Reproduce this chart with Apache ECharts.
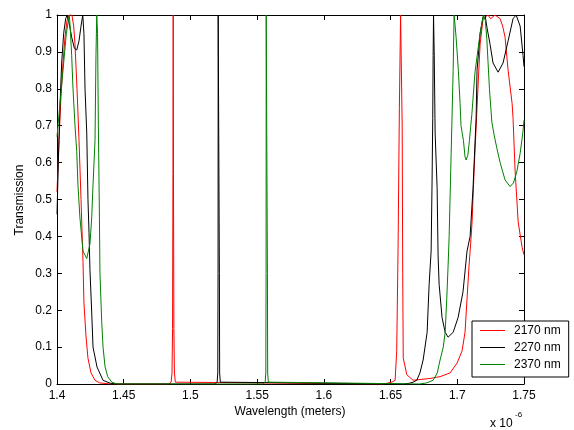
<!DOCTYPE html>
<html>
<head>
<meta charset="utf-8">
<script src="https://cdn.jsdelivr.net/npm/echarts@6/dist/echarts.min.js"></script>
<style>
html,body{margin:0;padding:0;background:#fff;}
#c{width:574px;height:430px;}
</style>
</head>
<body>
<div id="c"></div>
<script>
// Wavelength in micrometres (axis shows x 10^-6 m), transmission 0..1
var seriesNames = ['2170 nm', '2270 nm', '2370 nm'];
var xTicks = [1.4, 1.45, 1.5, 1.55, 1.6, 1.65, 1.7, 1.75];
var yTicks = [0, 0.1, 0.2, 0.3, 0.4, 0.5, 0.6, 0.7, 0.8, 0.9, 1];

var red2170 = [
[1.4000,0.52],[1.4015,0.66],[1.4030,0.78],[1.4045,0.87],[1.4060,0.94],[1.4075,0.985],[1.4090,1.0],[1.4112,1.0],[1.4125,0.97],[1.4135,0.92],[1.4150,0.80],[1.4165,0.66],[1.4180,0.50],[1.4195,0.33],[1.4202,0.22],[1.4217,0.13],[1.4232,0.07],[1.4255,0.03],[1.4285,0.01],[1.4320,0.003],[1.4400,0],
[1.4840,0],[1.4855,0.005],[1.4862,0.03],[1.4866,0.15],[1.4869,0.57],[1.4871,1.0],[1.4873,0.57],[1.4876,0.15],[1.4880,0.03],[1.4887,0.005],[1.4900,0],
[1.6440,0],[1.6474,0.002],[1.6510,0.005],[1.6534,0.01],[1.6546,0.09],[1.6556,0.36],[1.6566,0.75],[1.6575,1.0],[1.6582,1.0],[1.6587,0.7],[1.6591,0.3],[1.6595,0.07],[1.6622,0.025],[1.6669,0.01],[1.6796,0.015],[1.6871,0.02],[1.6946,0.03],[1.6999,0.057],[1.7036,0.09],[1.7058,0.14],[1.7073,0.23],[1.7088,0.32],[1.7100,0.38],[1.7111,0.44],[1.7126,0.58],[1.7148,0.75],[1.7160,0.84],[1.7171,0.92],[1.7193,0.99],[1.7230,1.0],[1.7250,0.99],[1.7283,1.0],[1.7321,0.99],[1.7340,0.97],[1.7358,0.94],[1.7381,0.85],[1.7411,0.76],[1.7418,0.72],[1.7433,0.58],[1.7448,0.49],[1.7456,0.44],[1.7486,0.37],[1.7500,0.35]
];

var black2270 = [
[1.4000,0.46],[1.4010,0.60],[1.4022,0.75],[1.4035,0.87],[1.4050,0.95],[1.4065,0.99],[1.4075,1.0],[1.4090,0.98],[1.4110,0.94],[1.4130,0.91],[1.4148,0.905],[1.4165,0.93],[1.4180,0.97],[1.4193,1.0],[1.4202,0.95],[1.4210,0.80],[1.4223,0.68],[1.4232,0.50],[1.4240,0.41],[1.4247,0.31],[1.4260,0.195],[1.4270,0.10],[1.4300,0.046],[1.4345,0.01],[1.4400,0.002],[1.4450,0],
[1.5185,0],[1.5200,0.005],[1.5205,0.03],[1.5207,0.3],[1.5208,1.0],[1.5216,1.0],[1.5217,0.3],[1.5219,0.03],[1.5224,0.005],[1.5238,0],
[1.6600,0],[1.6640,0.002],[1.6670,0.005],[1.6696,0.01],[1.6720,0.03],[1.6744,0.065],[1.6774,0.14],[1.6789,0.27],[1.6804,0.36],[1.6811,0.55],[1.6816,0.72],[1.6819,0.89],[1.6822,1.0],[1.6827,0.9],[1.6834,0.68],[1.6849,0.53],[1.6856,0.35],[1.6864,0.27],[1.6886,0.18],[1.6909,0.14],[1.6931,0.127],[1.6969,0.14],[1.7006,0.18],[1.7043,0.25],[1.7073,0.36],[1.7096,0.40],[1.7118,0.53],[1.7141,0.72],[1.7148,0.85],[1.7171,0.95],[1.7193,0.995],[1.7208,1.0],[1.7223,0.965],[1.7246,0.92],[1.7268,0.87],[1.7306,0.845],[1.7343,0.87],[1.7381,0.93],[1.7418,0.99],[1.7441,1.0],[1.7471,0.97],[1.7493,0.89],[1.7500,0.86]
];

var green2370 = [
[1.4000,0.67],[1.4020,0.75],[1.4045,0.85],[1.4070,0.95],[1.4092,1.0],[1.4100,0.96],[1.4110,0.89],[1.4120,0.80],[1.4135,0.70],[1.4148,0.63],[1.4157,0.54],[1.4172,0.45],[1.4195,0.36],[1.4223,0.34],[1.4247,0.38],[1.4260,0.45],[1.4270,0.54],[1.4285,0.66],[1.4292,0.89],[1.4298,1.0],[1.4304,0.95],[1.4310,0.70],[1.4318,0.45],[1.4322,0.30],[1.4335,0.17],[1.4345,0.10],[1.4360,0.047],[1.4380,0.02],[1.4410,0.005],[1.4450,0],
[1.5545,0],[1.5560,0.005],[1.5565,0.03],[1.5567,0.3],[1.5568,1.0],[1.5576,1.0],[1.5577,0.3],[1.5579,0.03],[1.5584,0.005],[1.5598,0],
[1.6720,0],[1.6770,0.003],[1.6819,0.01],[1.6850,0.03],[1.6871,0.065],[1.6895,0.10],[1.6909,0.14],[1.6921,0.23],[1.6931,0.32],[1.6939,0.40],[1.6951,0.58],[1.6959,0.70],[1.6969,0.85],[1.6976,1.0],[1.6984,0.97],[1.6991,0.94],[1.7008,0.85],[1.7021,0.76],[1.7028,0.70],[1.7046,0.66],[1.7058,0.616],[1.7066,0.607],[1.7079,0.62],[1.7091,0.66],[1.7101,0.70],[1.7109,0.73],[1.7133,0.846],[1.7171,0.95],[1.7196,1.0],[1.7210,0.985],[1.7221,0.937],[1.7241,0.80],[1.7259,0.71],[1.7276,0.675],[1.7296,0.64],[1.7321,0.60],[1.7358,0.553],[1.7396,0.535],[1.7421,0.545],[1.7446,0.575],[1.7471,0.625],[1.7491,0.68],[1.7500,0.715]
];

var seriesData = [red2170, black2270, green2370];
var seriesColors = ['#ff0000', '#000000', '#008000'];

var FONT = 'Liberation Sans, Arial, Helvetica, sans-serif';
var chart = echarts.init(document.getElementById('c'), null, {renderer: 'canvas'});

function xAxisDef(pos, showLabel) {
  return {
    type: 'value', position: pos,
    min: xTicks[0], max: xTicks[xTicks.length - 1], interval: 0.05,
    axisLine: {show: true, onZero: false, lineStyle: {color: '#000', width: 1}},
    axisTick: {show: true, inside: true, length: 5, lineStyle: {color: '#000', width: 1}},
    axisLabel: {show: showLabel, color: '#000', fontFamily: FONT, fontSize: 12, margin: 6,
      formatter: function (v) { return String(+v.toFixed(2)); }},
    splitLine: {show: false}
  };
}
function yAxisDef(pos, showLabel) {
  return {
    type: 'value', position: pos,
    min: yTicks[0], max: yTicks[yTicks.length - 1], interval: 0.1,
    axisLine: {show: true, onZero: false, lineStyle: {color: '#000', width: 1}},
    axisTick: {show: true, inside: true, length: 5, lineStyle: {color: '#000', width: 1}},
    axisLabel: {show: showLabel, color: '#000', fontFamily: FONT, fontSize: 12, margin: 5,
      formatter: function (v) { return String(+v.toFixed(1)); }},
    splitLine: {show: false}
  };
}

var option = {
  animation: false,
  backgroundColor: '#fff',
  grid: {left: 57, right: 50, top: 15, bottom: 46, containLabel: false},
  xAxis: [xAxisDef('bottom', true), xAxisDef('top', false)],
  yAxis: [yAxisDef('left', true), yAxisDef('right', false)],
  legend: {
    data: seriesNames,
    orient: 'vertical',
    left: 472, top: 321,
    padding: [3, 8, 6, 8],
    itemGap: 4,
    itemWidth: 25, itemHeight: 1,
    icon: 'rect',
    backgroundColor: '#fff',
    borderColor: '#000', borderWidth: 1,
    textStyle: {color: '#000', fontFamily: FONT, fontSize: 12, lineHeight: 13, padding: [0, 0, 0, 4]}
  },
  series: seriesData.map(function (d, i) {
    return {
      name: seriesNames[i], type: 'line', data: d,
      xAxisIndex: 0, yAxisIndex: 0,
      showSymbol: false, symbol: 'none',
      lineStyle: {color: seriesColors[i], width: 1},
      itemStyle: {color: seriesColors[i]},
      z: 2 + i
    };
  }),
  graphic: [
    {type: 'text', x: 20, y: 200, rotation: Math.PI / 2,
      style: {text: 'Transmission', fill: '#000', font: '12px ' + FONT, align: 'center', verticalAlign: 'middle'}},
    {type: 'text', x: 290, y: 412,
      style: {text: 'Wavelength (meters)', fill: '#000', font: '12px ' + FONT, align: 'center', verticalAlign: 'middle'}},
    {type: 'text', x: 490, y: 424,
      style: {text: 'x 10', fill: '#000', font: '12px ' + FONT, align: 'left', verticalAlign: 'middle'}},
    {type: 'text', x: 515, y: 415,
      style: {text: '-6', fill: '#000', font: '8px ' + FONT, align: 'left', verticalAlign: 'middle'}}
  ]
};
chart.setOption(option);
</script>
</body>
</html>
